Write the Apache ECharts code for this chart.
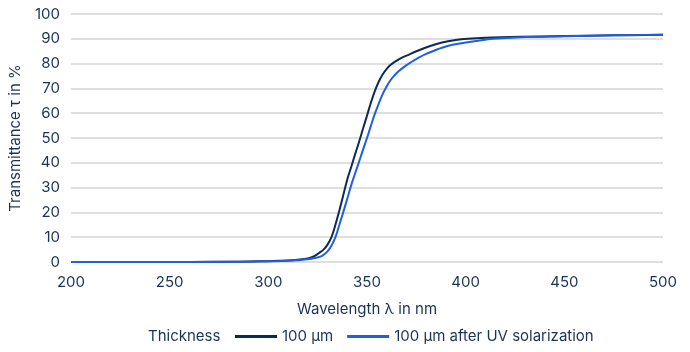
<!DOCTYPE html>
<html><head><meta charset="utf-8">
<script src="https://cdn.jsdelivr.net/npm/echarts@6/dist/echarts.min.js"></script>
<style>html,body{margin:0;padding:0;background:#fff}#c{width:690px;height:352px}</style>
</head><body><div id="c"></div>
<script>
const seriesNames = ['100 µm', '100 µm after UV solarization'];
const wl100 = [200,250,260,280,290,300,310,315,320,322,324,326,328,330,332,334,336,338,340,342,344,346,348,350,352,354,356,358,360,362,364,367,370,376,382,388,395,401,410,428,450,475,500];
const tau100 = [0,0,0.03,0.1,0.2,0.35,0.6,0.9,1.4,1.9,2.7,3.8,5,7,10,15,20.8,27,33.3,38.3,43.5,48.5,53.8,59,64.3,69,72.8,75.7,77.9,79.5,80.7,82.1,83.2,85.3,87.1,88.5,89.5,90,90.4,90.8,91.1,91.4,91.6];
const wlUV = [200,260,280,290,300,310,315,320,324,327,330,332,334,336,338,340,342,344,346,348,350,352,354,356,358,360,362,364,366,369,372,376,380,384,388,394,401,408,414,428,450,475,500];
const tauUV = [0,0.02,0.08,0.15,0.3,0.5,0.75,1.1,1.7,2.4,4.3,6.6,10,15,20.2,25.5,31,35.8,40.5,45.3,50,55,59.8,64,67.8,70.9,73.4,75.3,76.9,78.8,80.4,82.3,83.9,85.2,86.4,87.7,88.6,89.4,90,90.6,91,91.4,91.6];
const xTicks = [200,250,300,350,400,450,500];
const yTicks = [0,10,20,30,40,50,60,70,80,90,100];

const textColor = '#1b3358';
const font = 'Inter, "Noto Sans", sans-serif';
const pair = (xs, ys) => xs.map((x, i) => [x, ys[i]]);

const chart = echarts.init(document.getElementById('c'));
chart.setOption({
  animation: false,
  textStyle: {fontFamily: font},
  grid: {left: 67, right: 27, top: 14, bottom: 90},
  xAxis: {
    type: 'value', min: xTicks[0], max: xTicks[xTicks.length-1], interval: 50,
    name: 'Wavelength λ in nm', nameLocation: 'middle', nameGap: 40,
    nameTextStyle: {color: textColor, fontSize: 15, fontFamily: font},
    axisLine: {show: false}, axisTick: {show: false},
    axisLabel: {color: textColor, fontSize: 15, margin: 13, fontFamily: font},
    splitLine: {show: false}
  },
  yAxis: {
    type: 'value', min: yTicks[0], max: yTicks[yTicks.length-1], interval: 10,
    name: 'Transmittance τ in %', nameLocation: 'middle', nameGap: 48, nameRotate: 90,
    nameTextStyle: {color: textColor, fontSize: 15, fontFamily: font},
    axisLine: {show: false}, axisTick: {show: false},
    axisLabel: {color: textColor, fontSize: 15, margin: 11, fontFamily: font},
    splitLine: {lineStyle: {color: '#d4d4d4', width: 1.5}}
  },
  legend: {
    data: seriesNames, left: 235, top: 329, padding: 0, icon: 'rect', itemWidth: 42, itemHeight: 3, itemGap: 14,
    textStyle: {color: textColor, fontSize: 15, fontFamily: font}
  },
  graphic: [{type: 'text', left: 148, top: 329, style: {text: 'Thickness', fill: textColor, fontSize: 15, fontFamily: font}}],
  series: [
    {name: seriesNames[0], type: 'line', data: pair(wl100, tau100), showSymbol: false, smooth: 0.4,
     lineStyle: {color: '#0d2a52', width: 2}, itemStyle: {color: '#0d2a52'}, z: 3},
    {name: seriesNames[1], type: 'line', data: pair(wlUV, tauUV), showSymbol: false, smooth: 0.4,
     lineStyle: {color: '#1f5fe0', width: 2}, itemStyle: {color: '#1f5fe0'}, z: 4}
  ]
});
</script></body></html>
